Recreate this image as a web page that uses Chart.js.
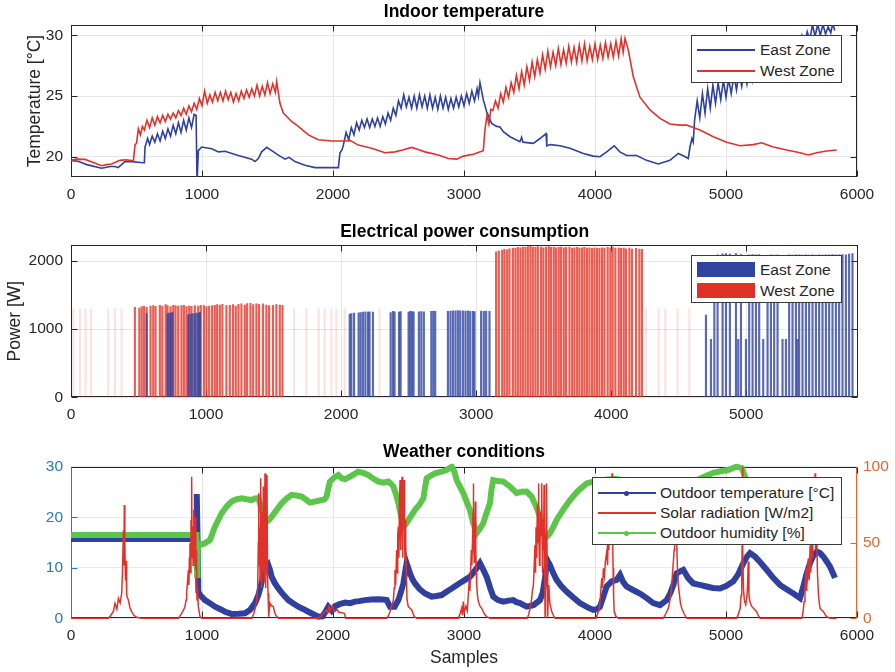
<!DOCTYPE html>
<html>
<head>
<meta charset="utf-8">
<title>Zone monitoring</title>
<script src="https://cdn.jsdelivr.net/npm/chart.js@4.4.1/dist/chart.umd.min.js"></script>
<style>
  body { margin: 0; background: #fff; }
  #fig { position: relative; width: 895px; height: 672px; font-family: "Liberation Sans", Arial, sans-serif; color: #262626; overflow: hidden; }
  #fig canvas { position: absolute; left: 0; }
  .legend { position: absolute; background: #fff; border: 1px solid #3a3a3a; box-sizing: border-box; }
  .legend .sw { position: absolute; left: 5px; width: 58px; }
  .legend .dot { position: absolute; width: 5px; height: 5px; border-radius: 50%; left: 31px; }
  .legend span { position: absolute; font-size: 15.5px; line-height: 20px; white-space: nowrap; }
</style>
</head>
<body>
<div id="fig">
  <canvas id="tempChart" width="895" height="215" style="top:0"></canvas>
  <canvas id="powerChart" width="895" height="215" style="top:215px"></canvas>
  <canvas id="weatherChart" width="895" height="242" style="top:430px"></canvas>

  <div class="legend" style="left:691px;top:35px;width:151px;height:48px">
    <div class="sw" style="top:13px;height:2px;background:#2f409f"></div>
    <span style="left:68px;top:4px">East Zone</span>
    <div class="sw" style="top:34px;height:2px;background:#e0322a"></div>
    <span style="left:68px;top:25px">West Zone</span>
  </div>

  <div class="legend" style="left:691px;top:255px;width:151px;height:48px">
    <div class="sw" style="top:6px;height:15px;background:#2f44a0"></div>
    <span style="left:68px;top:4px">East Zone</span>
    <div class="sw" style="top:27px;height:15px;background:#e03127"></div>
    <span style="left:68px;top:25px">West Zone</span>
  </div>

  <div class="legend" style="left:592px;top:477px;width:250px;height:68px">
    <div class="sw" style="top:14px;height:2px;background:#2f409f"></div>
    <div class="dot" style="top:12.5px;background:#2f409f"></div>
    <span style="left:67px;top:5px">Outdoor temperature [°C]</span>
    <div class="sw" style="top:34px;height:2px;background:#e0322a"></div>
    <span style="left:67px;top:25px">Solar radiation [W/m2]</span>
    <div class="sw" style="top:54px;height:2px;background:#5cc64a"></div>
    <div class="dot" style="top:52.5px;background:#5cc64a"></div>
    <span style="left:67px;top:45px">Outdoor humidity [%]</span>
  </div>
</div>

<script>
// ---- tick positions
const sampleTicks = [0, 1000, 2000, 3000, 4000, 5000, 6000];
const powerSampleTicks = [0, 1000, 2000, 3000, 4000, 5000];
const indoorTempTicks = [20, 25, 30];
const powerTicks = [0, 1000, 2000];
const outdoorTempTicks = [0, 10, 20, 30];
const percentTicks = [0, 50, 100];

// ---- indoor temperature, [sample, degC]
const eastZoneTemp = [
  [0,19.7],[60,19.6],[120,19.35],[234,19.05],[300,19.2],[336,19.2],[360,19.1],[412,19.6],[463,19.6],[552,19.5],[560,19.5],
  [565,20.8],[585,21.5],[600,21.0],[620,21.7],[640,21.2],[660,21.9],[680,21.3],[700,22.1],[720,21.5],[740,22.3],[760,21.7],
  [780,22.6],[800,21.9],[820,22.8],[840,22.0],[860,23.0],[880,22.2],[900,23.2],[920,22.4],[940,23.5],[955,23.4],[962,17.8],
  [972,20.5],[997,20.8],[1074,20.65],[1125,20.4],[1175,20.45],[1277,20.1],[1379,19.8],[1405,19.6],[1430,19.85],[1455,20.4],
  [1494,20.77],[1532,20.5],[1583,20.13],[1634,19.8],[1664,19.95],[1710,19.6],[1786,19.3],[1863,19.1],[1950,19.1],[2041,19.1],
  [2053,20.3],[2070,20.6],[2080,21.0],[2100,22.0],[2120,21.4],[2140,22.4],[2160,21.8],[2180,22.8],[2200,22.2],[2220,23.0],
  [2240,22.4],[2260,23.1],[2280,22.4],[2300,23.1],[2320,22.5],[2340,23.2],[2360,22.5],[2380,23.3],[2400,22.7],[2420,23.6],
  [2440,23.0],[2460,24.0],[2480,23.4],[2500,24.6],[2520,24.0],[2540,25.1],[2560,24.1],[2580,24.9],[2600,24.0],[2620,25.0],
  [2640,24.0],[2660,25.1],[2680,24.1],[2700,25.0],[2720,24.0],[2740,25.1],[2760,24.0],[2780,24.9],[2800,23.9],[2820,25.0],
  [2840,24.0],[2860,24.9],[2880,23.9],[2900,24.8],[2920,24.0],[2940,24.9],[2960,24.1],[2980,25.0],[3000,24.2],[3020,25.2],
  [3040,24.4],[3060,25.4],[3080,24.6],[3100,25.6],[3110,25.0],[3122,26.1],[3147,24.7],[3173,23.7],[3211,22.75],[3249,22.5],
  [3275,22.45],[3300,22.06],[3351,21.65],[3427,21.24],[3440,21.6],[3450,21.2],[3529,21.1],[3580,21.5],[3626,21.9],[3632,20.9],
  [3660,21.0],[3733,20.9],[3809,20.7],[3911,20.27],[3987,20.05],[4038,20.0],[4089,20.4],[4147,20.9],[4190,20.4],[4241,20.1],
  [4318,20.1],[4394,19.7],[4483,19.4],[4572,19.7],[4636,20.27],[4670,20.1],[4712,19.86],[4725,20.8],[4740,21.5],[4750,21.2],
  [4760,23.0],[4780,24.6],[4800,23.2],[4820,25.2],[4840,23.6],[4860,25.6],[4880,24.0],[4900,25.9],[4920,24.4],[4940,26.1],
  [4960,24.7],[4980,26.3],[5000,24.9],[5020,26.4],[5040,25.2],[5060,26.7],[5080,25.5],[5100,27.0],[5120,25.8],[5140,27.2],
  [5160,26.0],[5180,27.5],[5200,26.3],[5220,27.8],[5240,26.6],[5260,28.0],[5280,26.9],[5300,28.3],[5320,27.2],[5340,28.5],
  [5360,27.5],[5380,28.8],[5400,27.8],[5420,29.0],[5440,28.1],[5460,29.2],[5480,28.4],[5500,29.5],[5520,28.7],[5540,29.7],
  [5560,29.0],[5580,30.0],[5600,29.3],[5620,30.3],[5640,29.6],[5660,30.9],[5680,29.9],[5700,30.9],[5720,30.0],[5740,30.9],
  [5760,30.1],[5780,30.7],[5800,30.2],[5815,31.0],[5830,30.4]
];
const westZoneTemp = [
  [0,19.7],[40,19.8],[107,19.78],[150,19.6],[234,19.26],[270,19.35],[310,19.4],[374,19.7],[420,19.75],[476,19.67],[489,21.0],
  [500,21.1],[514,22.3],[530,21.8],[545,22.5],[560,22.2],[580,23.0],[600,22.4],[620,23.2],[640,22.6],[660,23.3],[680,22.8],
  [700,23.4],[720,22.9],[740,23.5],[760,23.1],[780,23.6],[800,23.2],[820,23.8],[840,23.4],[860,24.0],[880,23.5],[900,24.2],
  [920,23.7],[940,24.4],[960,23.9],[980,24.8],[1000,24.2],[1020,25.4],[1040,24.4],[1060,25.1],[1080,24.5],[1100,25.3],
  [1120,24.6],[1140,25.3],[1160,24.6],[1180,25.4],[1200,24.7],[1220,25.3],[1240,24.5],[1260,25.2],[1280,24.6],[1300,25.4],
  [1320,24.8],[1340,25.5],[1360,24.9],[1380,25.6],[1400,25.0],[1420,25.9],[1440,25.0],[1460,25.8],[1480,25.1],[1500,26.1],
  [1520,25.2],[1540,26.0],[1560,25.3],[1570,26.2],[1595,24.4],[1621,23.6],[1684,22.9],[1735,22.5],[1812,21.8],[1888,21.4],
  [1990,21.3],[2092,21.3],[2130,21.35],[2193,20.96],[2295,20.7],[2397,20.33],[2473,20.4],[2530,20.55],[2600,20.77],[2650,20.6],
  [2702,20.4],[2804,20.14],[2880,19.86],[2944,19.8],[2995,20.05],[3071,20.2],[3147,20.5],[3160,22.2],[3175,23.4],[3190,22.7],
  [3205,23.9],[3220,23.8],[3240,24.6],[3260,24.0],[3280,25.2],[3300,24.5],[3320,25.7],[3340,24.9],[3360,26.1],[3380,25.3],
  [3400,26.7],[3420,25.6],[3440,27.0],[3460,25.9],[3480,27.4],[3500,26.3],[3520,27.8],[3540,26.6],[3560,28.0],[3580,26.9],
  [3600,28.4],[3620,27.2],[3640,28.7],[3660,27.4],[3680,28.6],[3700,27.5],[3720,28.9],[3740,27.6],[3760,28.8],[3780,27.7],
  [3800,29.1],[3820,27.8],[3840,29.0],[3860,27.8],[3880,29.2],[3900,27.9],[3920,29.3],[3940,27.9],[3960,29.1],[3980,28.0],
  [4000,29.3],[4020,28.0],[4040,29.2],[4060,28.1],[4080,29.4],[4100,28.2],[4120,29.3],[4140,28.2],[4160,29.5],[4180,28.3],
  [4200,29.7],[4215,28.6],[4229,29.75],[4254,28.8],[4292,26.6],[4343,24.9],[4420,23.85],[4496,23.16],[4572,22.7],[4649,22.6],
  [4700,22.6],[4725,22.5],[4801,22.2],[4903,21.65],[5005,21.2],[5107,20.9],[5208,21.0],[5272,21.15],[5361,20.8],[5463,20.55],
  [5565,20.33],[5628,20.14],[5692,20.33],[5768,20.47],[5845,20.55]
];

// ---- heater power, [sample, W]
const westZonePower = [
  [473,1320],[506,1310],[523,1330],[540,1335],[560,1320],[589,1340],[609,1345],[626,1335],[658,1350],[676,1340],
  [701,1360],[715,1345],[737,1330],[757,1350],[774,1345],[794,1340],[818,1345],[836,1350],[855,1330],[875,1340],
  [892,1335],[917,1345],[942,1340],[961,1350],[984,1345],[1003,1330],[1023,1340],[1045,1345],[1065,1350],[1082,1360],
  [1102,1355],[1121,1365],[1151,1345],[1176,1350],[1200,1360],[1220,1340],[1240,1365],[1262,1370],[1287,1355],[1304,1375],
  [1329,1380],[1349,1360],[1373,1370],[1393,1365],[1422,1370],[1447,1355],[1467,1345],[1496,1350],[1521,1360],[1546,1355],
  [1566,1350],
  [3148,2136],[3168,2150],[3193,2160],[3210,2170],[3230,2165],[3247,2180],[3272,2190],[3291,2185],[3309,2200],[3328,2195],
  [3346,2205],[3365,2200],[3383,2210],[3402,2215],[3420,2205],[3439,2200],[3457,2210],[3481,2205],[3498,2195],[3518,2205],
  [3538,2210],[3555,2200],[3575,2205],[3592,2195],[3612,2200],[3629,2205],[3649,2195],[3666,2200],[3691,2205],[3711,2190],
  [3728,2195],[3748,2200],[3765,2190],[3784,2195],[3802,2200],[3821,2190],[3839,2195],[3858,2185],[3876,2195],[3895,2190],
  [3913,2185],[3932,2195],[3950,2190],[3974,2200],[3994,2195],[4011,2205],[4031,2190],[4056,2195],[4073,2185],[4093,2190],
  [4110,2180],[4135,2190],[4154,2175],[4184,2185],[4209,2175],[4228,2170]
];
const eastZonePower = [
  [560,1230],[715,1225],[727,1235],[740,1240],[752,1245],[868,1215],[885,1220],[900,1230],[915,1225],[930,1235],[945,1240],[955,1245],
  [2064,1222],[2076,1230],[2096,1235],[2130,1240],[2145,1245],[2162,1250],[2180,1255],[2199,1250],[2211,1255],[2236,1250],
  [2367,1245],[2384,1260],[2396,1255],[2429,1250],[2441,1258],
  [2500,1250],[2512,1262],[2525,1258],[2537,1255],[2576,1255],[2594,1258],[2613,1255],
  [2668,1260],[2683,1265],[2697,1262],
  [2791,1262],[2810,1265],[2828,1268],[2847,1270],[2865,1272],[2882,1268],[2902,1270],[2921,1265],[2939,1268],[2956,1262],
  [2976,1262],[2988,1258],[3037,1265],[3057,1262],[3074,1265],[3099,1262],
  [4702,1205],[4739,850],[4764,2085],[4788,2090],[4825,2105],[4850,2110],[4879,2100],[4924,2110],[4941,850],[4961,2095],
  [4998,850],[5022,2090],[5047,2095],[5072,2090],[5096,2095],[5126,850],[5158,2085],[5183,2090],[5207,2088],[5232,2092],
  [5269,850],[5294,850],[5318,2090],[5343,2088],[5368,2092],[5380,850],[5392,2090],[5417,2086],[5442,2090],[5466,2088],
  [5491,2092],[5516,2086],[5540,2090],[5565,2088],[5590,2092],[5614,2090],[5639,2095],[5664,2090],[5688,2092],[5713,2095],
  [5738,2090],[5762,2100],[5787,2110]
];
// short idle pulses that render as faint strokes
const westIdlePower = [
  [17,1300],[66,1300],[108,1300],[148,1300],[276,1300],[325,1300],[375,1300],[1652,1300],[1743,1300],[1834,1300],
  [1879,1300],[1928,1300],[1965,1300],[2027,1300],[2285,1300],[4258,1300],[4352,1300],[4401,1300],[4492,1300],[4579,1300]
];

// ---- weather, [sample, value]
const outdoorTemp = [
  [0,15.7],[955,15.7],[960,24.6],[966,15.7],[972,5.3],[985,4.6],[1000,4.2],[1023,3.6],[1060,3.0],[1099,2.3],[1140,1.8],
  [1176,1.3],[1226,0.86],[1280,0.9],[1328,1.0],[1366,1.65],[1405,3.0],[1430,4.6],[1450,6.5],[1468,8.9],[1490,10.0],
  [1506,10.55],[1520,9.5],[1532,8.2],[1555,7.0],[1583,5.9],[1620,4.7],[1659,3.6],[1700,2.9],[1735,2.3],[1775,1.8],
  [1812,1.3],[1850,0.8],[1888,0.33],[1920,0.4],[1940,1.2],[1964,2.3],[1990,1.5],[2015,2.4],[2050,2.8],[2092,3.1],
  [2130,3.0],[2168,3.3],[2200,3.4],[2244,3.6],[2290,3.7],[2346,3.76],[2380,3.7],[2410,3.6],[2425,2.8],[2435,2.3],
  [2470,2.3],[2499,3.6],[2520,5.3],[2537,6.9],[2550,9.0],[2562,10.9],[2575,9.9],[2588,8.9],[2605,7.8],[2626,6.9],
  [2660,5.8],[2702,4.9],[2753,4.3],[2790,4.4],[2829,4.6],[2870,5.3],[2906,5.9],[2969,7.0],[3008,7.6],[3045,8.2],
  [3070,9.0],[3096,9.9],[3122,10.9],[3140,10.0],[3173,8.2],[3200,6.0],[3223,4.3],[3260,3.6],[3300,3.3],[3340,3.5],
  [3376,3.6],[3400,3.2],[3427,3.0],[3478,2.3],[3530,2.6],[3580,3.6],[3600,5.0],[3618,7.9],[3636,11.5],[3656,10.55],
  [3680,9.0],[3707,7.6],[3745,6.3],[3783,5.3],[3830,4.2],[3885,3.0],[3940,2.2],[3987,1.65],[4015,1.8],[4038,2.3],
  [4060,4.0],[4089,6.3],[4127,7.3],[4165,7.6],[4191,8.6],[4215,7.2],[4241,6.3],[4290,5.6],[4343,4.9],[4395,4.0],
  [4445,3.0],[4496,2.6],[4547,3.6],[4575,5.0],[4598,6.6],[4623,8.9],[4650,9.3],[4674,9.6],[4710,8.0],[4750,6.9],
  [4800,6.6],[4851,6.3],[4900,6.0],[4954,5.9],[5000,6.4],[5056,7.3],[5095,8.8],[5132,10.9],[5160,12.2],[5183,12.9],
  [5221,12.2],[5265,11.0],[5310,9.6],[5360,8.0],[5412,6.6],[5465,5.7],[5514,4.9],[5565,4.0],[5590,6.3],[5615,8.8],
  [5641,10.9],[5665,12.3],[5692,13.2],[5718,12.9],[5743,12.2],[5770,11.2],[5794,10.2],[5815,9.0],[5832,8.0]
];
const solarRadiation = [
  [0,0],[285,0],[300,1.5],[323,4.4],[336,9.9],[350,6],[362,13],[375,10],[387,16.5],[393,30],[400,58],[404,35],[407,74.8],
  [410,55],[412,49.5],[416,25],[420,38],[425,15],[438,12],[450,7],[463,4.4],[480,2],[501,0.7],[540,0],
  [819,0],[845,3.3],[862,6],[870,7.7],[878,12],[883,16.5],[890,25],[896,31.9],[900,22],[904,40],[908,49.5],[912,30],
  [916,64.9],[919,40],[921,93.4],[924,45],[929,60.5],[932,35],[936,71.5],[938,50],[941,38.5],[944,58],[947,67],[950,40],
  [954,31.9],[958,45],[962,12.1],[966,20],[972,7.7],[985,1.1],[997,0],
  [1379,0],[1395,3],[1410,7.7],[1418,12],[1425,20.9],[1430,50],[1433,82.5],[1436,35],[1440,60],[1443,25],[1446,75],
  [1450,92.3],[1453,40],[1456,20],[1460,70],[1464,30],[1468,86.9],[1472,50],[1475,25],[1478,66],[1481,95.6],[1484,40],
  [1488,20],[1492,60],[1496,94.5],[1500,30],[1504,16.5],[1508,5],[1511,1.1],[1515,8],[1519,9.9],[1530,8.5],[1545,7.7],
  [1555,4],[1562,2.2],[1583,0],
  [1888,0],[1910,1.5],[1927,3.3],[1940,4.5],[1951,5.5],[1960,3.8],[1969,7.7],[1978,4.5],[1985,6.5],[1997,8.1],[2005,5],
  [2015,4.4],[2030,5.8],[2045,4],[2066,3.7],[2087,3.3],[2097,0],
  [2410,0],[2425,2],[2435,4.4],[2448,8],[2461,12.1],[2467,20],[2473,31.9],[2478,22],[2486,45],[2490,30],[2494,55],
  [2499,60.5],[2503,40],[2507,75],[2512,91.2],[2515,45],[2519,49.5],[2523,70],[2527,93.4],[2530,40],[2534,60.5],[2538,85],
  [2542,91.2],[2546,50],[2550,38.5],[2553,65],[2557,49.5],[2561,25],[2565,12.1],[2575,7.7],[2590,6.5],[2601,5.5],
  [2612,3],[2621,1.1],[2639,0],
  [2957,0],[2970,3],[2982,6.6],[2988,2],[2995,11],[3002,4],[3015,8],[3025,5],[3033,15.4],[3040,25],[3045,18],[3051,33],
  [3056,45],[3060,35],[3066,55],[3069,70],[3071,89],[3074,50],[3079,37],[3083,60],[3087,77],[3090,45],[3094,30],[3097,22],
  [3103,15],[3110,11],[3122,8],[3135,6.6],[3155,3],[3173,1.1],[3199,0],
  [3484,0],[3495,3],[3504,6.6],[3515,12],[3522,18],[3530,22],[3536,35],[3542,48.4],[3546,30],[3550,60],[3555,40],[3560,75],
  [3565,50],[3568,89],[3572,60],[3576,35],[3580,44],[3584,70],[3588,55],[3593,89],[3597,50],[3600,30],[3604,65],[3608,45],
  [3611,88],[3615,40],[3619,1.1],[3622,30],[3626,55],[3628,75],[3631,89],[3635,30],[3639,1.1],[3643,15],[3647,22],
  [3655,10],[3670,4.4],[3682,2],[3695,0],
  [4008,0],[4020,3],[4034,6.6],[4042,15],[4051,26.4],[4058,20],[4064,33],[4072,28],[4080,38],[4090,44],[4096,35],
  [4102,61.5],[4106,45],[4110,75],[4115,90],[4119,50],[4123,55],[4127,80],[4130,95.6],[4134,60],[4138,33],[4142,15],
  [4146,4.4],[4152,3],[4161,1.1],[4179,0],
  [4522,0],[4540,3],[4560,6.6],[4572,12],[4580,16],[4586,22],[4592,30],[4598,37],[4604,45],[4608,55],[4611,70],[4615,92],
  [4618,60],[4621,80],[4624,50],[4629,33],[4636,22],[4645,15.4],[4652,10],[4662,6.6],[4680,3],[4700,0],
  [5082,0],[5095,3],[5108,6.6],[5115,15],[5120,24],[5123,48],[5126,100],[5129,45],[5133,20],[5140,12],[5150,9],[5158,13],
  [5164,20],[5170,37.4],[5175,15],[5183,11],[5195,8],[5209,6.6],[5234,4.4],[5245,2],[5260,0],
  [5578,0],[5588,4],[5596,11],[5603,20],[5611,33],[5616,18],[5621,30],[5629,39.6],[5635,25],[5642,48],[5647,30],[5652,65],
  [5657,40],[5662,80],[5666,50],[5670,90],[5674,55],[5677,75],[5680,95.6],[5684,45],[5688,70],[5693,55],[5698,30],
  [5706,15.4],[5712,10],[5718,6.6],[5730,5.5],[5744,4.4],[5760,2],[5769,1.1],[5795,0],[5845,0]
];
const outdoorHumidity = [
  [0,55],[958,55],[962,28.6],[966,45],[975,48.4],[1000,48.8],[1023,49.5],[1061,51.7],[1080,56],[1099,60.5],[1125,65],
  [1150,69.3],[1190,74],[1226,77],[1260,78.5],[1303,79.2],[1340,78.5],[1379,78],[1405,79],[1430,79.2],[1445,75],[1455,71.5],
  [1475,67],[1494,63.8],[1512,65],[1532,67.1],[1570,71.5],[1608,75.9],[1645,79],[1684,81.4],[1720,81],[1761,80.3],
  [1790,78.5],[1824,76.3],[1860,77],[1913,78],[1935,78.5],[1951,80.3],[1965,86],[1977,90.2],[2010,93],[2041,94.5],
  [2065,92.5],[2092,91.7],[2140,94],[2193,96.7],[2230,96],[2270,94.5],[2310,92],[2346,90.2],[2385,89.5],[2422,90.2],
  [2440,89],[2461,86.9],[2480,82],[2499,75.9],[2518,68],[2537,60.5],[2556,62],[2575,64.9],[2600,68],[2626,71.5],
  [2660,75],[2690,79.2],[2700,85],[2715,92.3],[2745,94],[2779,95.6],[2829,96.7],[2870,98],[2906,100],[2925,97],
  [2944,91.2],[2969,86.9],[2995,82.5],[3020,77],[3045,71.5],[3070,63],[3096,56.1],[3120,59],[3147,62.7],[3170,69],
  [3198,75.9],[3210,85],[3223,91.2],[3260,90.5],[3300,90.2],[3350,87],[3402,82.5],[3440,83.5],[3478,83.6],[3516,80.3],
  [3550,74],[3580,67.1],[3600,59],[3618,52.8],[3635,54],[3656,56.1],[3680,60],[3707,64.9],[3760,72],[3809,78],
  [3870,84],[3936,89],[3980,90],[4030,91],[4150,92],[4300,90],[4450,88],[4600,86],[4750,90],[4850,94],[4903,96],
  [4960,97],[5020,98],[5080,100],[5122,99],[5150,92],[5200,82],[5300,78],[5450,80],[5600,76],[5700,70],[5832,66]
];

const FONT = '"Liberation Sans", Arial, sans-serif';
const INK = '#262626';
Chart.defaults.font.family = FONT;
Chart.defaults.color = INK;
Chart.defaults.animation = false;

const pts = arr => arr.map(([x, y]) => ({ x, y }));
const fixedTicks = values => scale => { scale.ticks = values.map(v => ({ value: v })); };
const plainLabel = v => String(v);

// box around the plot area with inward tick marks on all four sides
const axesFrame = {
  id: 'axesFrame',
  beforeDatasetsDraw(chart, args, opts) {
    const { ctx, chartArea: a, scales } = chart;
    const xs = scales.x, yl = scales.y, yr = scales[opts.rightScale || 'y'];
    const len = 6;
    const seg = (x1, y1, x2, y2, c) => {
      ctx.strokeStyle = c;
      ctx.beginPath(); ctx.moveTo(x1, y1); ctx.lineTo(x2, y2); ctx.stroke();
    };
    const L = Math.round(a.left) + 0.5, R = Math.round(a.right) - 0.5;
    const T = Math.round(a.top) + 0.5, B = Math.round(a.bottom) - 0.5;
    ctx.save();
    ctx.lineWidth = 1;
    xs.ticks.forEach(t => {
      const p = Math.round(xs.getPixelForValue(t.value)) + 0.5;
      seg(p, B, p, B - len, INK);
      seg(p, T, p, T + len, INK);
    });
    yl.ticks.forEach(t => {
      const p = Math.round(yl.getPixelForValue(t.value)) + 0.5;
      seg(L, p, L + len, p, opts.leftColor || INK);
    });
    yr.ticks.forEach(t => {
      const p = Math.round(yr.getPixelForValue(t.value)) + 0.5;
      seg(R, p, R - len, p, opts.rightColor || INK);
    });
    seg(L - 0.5, T, R + 0.5, T, INK);
    seg(L - 0.5, B, R + 0.5, B, INK);
    seg(L, T, L, B, opts.leftColor || INK);
    seg(R, T, R, B, opts.rightColor || INK);
    ctx.restore();
  }
};

const gridStyle = { color: '#e6e6e6', lineWidth: 1, drawTicks: false };
const tickFont = { size: 15.5 };

function xAxis(max, height, tickValues, withTitle) {
  return {
    type: 'linear', min: 0, max: max, offset: false,
    grid: Object.assign({ offset: false }, gridStyle),
    border: { display: false },
    afterBuildTicks: fixedTicks(tickValues),
    ticks: { autoSkip: false, maxRotation: 0, padding: 8, font: tickFont, color: INK, callback: plainLabel },
    title: withTitle ? { display: true, text: 'Samples', font: { size: 17.5 }, color: INK, padding: { top: 0, bottom: 3.5 } } : { display: false },
    afterFit: s => { s.height = height; }
  };
}

function panelTitle(text, top, bottom) {
  return { display: true, text, fullSize: false, color: '#000', font: { size: 17.5, weight: 'bold' }, padding: { top, bottom } };
}

// Indoor temperature
new Chart(document.getElementById('tempChart'), {
  type: 'line',
  data: {
    datasets: [
      { label: 'West Zone', data: pts(westZoneTemp), borderColor: '#e0322a', borderWidth: 1.6, pointRadius: 0, order: 0, clip: 0 },
      { label: 'East Zone', data: pts(eastZoneTemp), borderColor: '#2f409f', borderWidth: 1.6, pointRadius: 0, order: 1, clip: 0 }
    ]
  },
  options: {
    responsive: false, devicePixelRatio: 1,
    layout: { padding: { top: 0, left: 0, right: 38, bottom: 0 } },
    plugins: { legend: { display: false }, tooltip: { enabled: false }, title: panelTitle('Indoor temperature', 1.5, 2.5), axesFrame: {} },
    scales: {
      x: xAxis(6000, 38, sampleTicks, false),
      y: {
        min: 18.33, max: 30.85,
        grid: gridStyle, border: { display: false },
        afterBuildTicks: fixedTicks(indoorTempTicks),
        ticks: { padding: 8, font: tickFont, color: INK, callback: plainLabel },
        title: { display: true, text: 'Temperature [°C]', font: { size: 17.5 }, color: INK, padding: { top: 24.5, bottom: 0 } },
        afterFit: s => { s.width = 71; }
      }
    }
  },
  plugins: [axesFrame]
});

// Electrical power consumption
new Chart(document.getElementById('powerChart'), {
  type: 'bar',
  data: {
    datasets: [
      { label: 'East Zone', data: pts(eastZonePower), backgroundColor: 'rgba(47,68,160,0.8)', barThickness: 1.5, order: 0 },
      { label: 'West Zone', data: pts(westZonePower), backgroundColor: 'rgba(228,52,40,0.8)', barThickness: 1.5, order: 1 },
      { label: 'West idle', data: pts(westIdlePower), backgroundColor: 'rgba(228,52,40,0.14)', barThickness: 1.5, order: 2 }
    ]
  },
  options: {
    responsive: false, devicePixelRatio: 1,
    grouped: false,
    layout: { padding: { top: 0, left: 0, right: 36.7, bottom: 0 } },
    plugins: { legend: { display: false }, tooltip: { enabled: false }, title: panelTitle('Electrical power consumption', 6.5, 2.5), axesFrame: {} },
    scales: {
      x: xAxis(5830, 32.7, powerSampleTicks, false),
      y: {
        min: 0, max: 2235,
        grid: gridStyle, border: { display: false },
        afterBuildTicks: fixedTicks(powerTicks),
        ticks: { padding: 8, font: tickFont, color: INK, callback: plainLabel },
        title: { display: true, text: 'Power [W]', font: { size: 17.5 }, color: INK, padding: { top: 5, bottom: 0 } },
        afterFit: s => { s.width = 71; }
      }
    }
  },
  plugins: [axesFrame]
});

// Weather conditions: temperature on the left axis, radiation and humidity on the right
const LEFT_C = '#2a78c0', RIGHT_C = '#e8652a';
new Chart(document.getElementById('weatherChart'), {
  type: 'line',
  data: {
    datasets: [
      { label: 'Solar radiation [W/m2]', data: pts(solarRadiation), yAxisID: 'y1', borderColor: '#e0322a', borderWidth: 1.5, pointRadius: 0, order: 0, clip: 2 },
      { label: 'Outdoor humidity [%]', data: pts(outdoorHumidity), yAxisID: 'y1', borderColor: '#5cc64a', borderWidth: 6, pointRadius: 0, order: 1, clip: 3 },
      { label: 'Outdoor temperature [°C]', data: pts(outdoorTemp), yAxisID: 'y', borderColor: '#2f409f', borderWidth: 6, pointRadius: 0, order: 2, clip: 3 }
    ]
  },
  options: {
    responsive: false, devicePixelRatio: 1,
    layout: { padding: { top: 0, left: 0, right: 0, bottom: 0 } },
    plugins: {
      legend: { display: false }, tooltip: { enabled: false },
      title: panelTitle('Weather conditions', 11.5, 4.2),
      axesFrame: { rightScale: 'y1', leftColor: LEFT_C, rightColor: RIGHT_C }
    },
    scales: {
      x: xAxis(6000, 53.7, sampleTicks, true),
      y: {
        position: 'left', min: 0, max: 30,
        grid: { color: '#e8eaf3', lineWidth: 1, drawTicks: false }, border: { display: false },
        afterBuildTicks: fixedTicks(outdoorTempTicks),
        ticks: { padding: 8, font: tickFont, color: LEFT_C, callback: plainLabel },
        afterFit: s => { s.width = 71; }
      },
      y1: {
        position: 'right', min: 0, max: 100,
        grid: { display: false, drawTicks: false }, border: { display: false },
        afterBuildTicks: fixedTicks(percentTicks),
        ticks: { padding: 6, font: tickFont, color: RIGHT_C, callback: plainLabel },
        afterFit: s => { s.width = 38; }
      }
    }
  },
  plugins: [axesFrame]
});
</script>
</body>
</html>
